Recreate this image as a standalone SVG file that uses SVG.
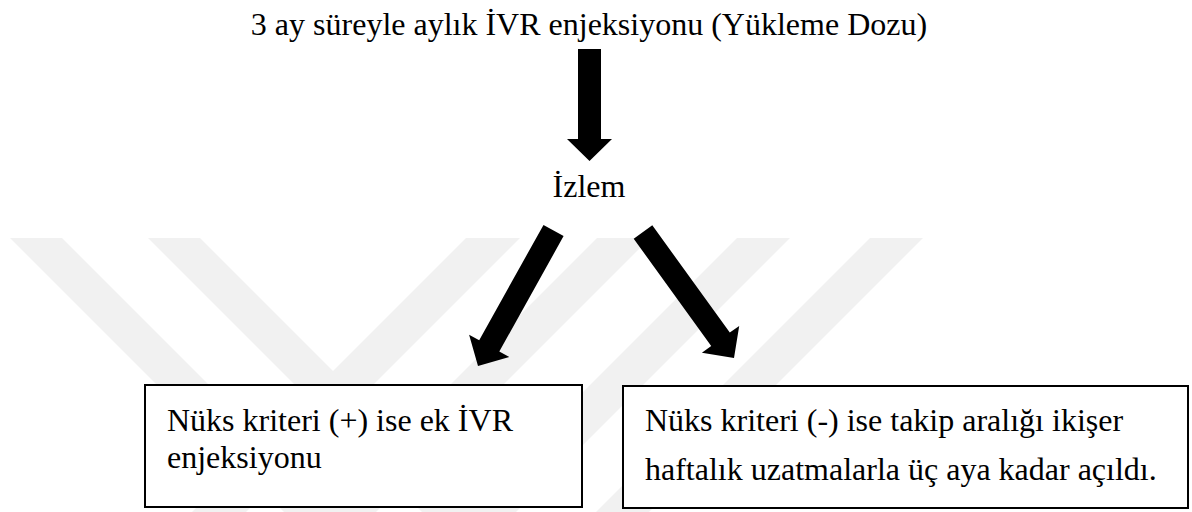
<svg xmlns="http://www.w3.org/2000/svg" width="1192" height="512" viewBox="0 0 1192 512">
<style>
text{font-family:'Liberation Serif','DejaVu Serif',serif;font-size:32px;fill:#000}
.box{fill:#fff;stroke:#000;stroke-width:2}
.arr{fill:#000}
.wm{fill:#f1f1f1}
</style>
<rect width="1192" height="512" fill="#fff"/>
<g id="watermark">
<polygon class="wm" points="10,238 62,238 336,512 284,512"/>
<polygon class="wm" points="148,238 200,238 474,512 422,512"/>
<polygon class="wm" points="466,238 520,238 246,512 192,512"/>
<polygon class="wm" points="597,238 650,238 376,512 323,512"/>
<polygon class="wm" points="737,238 790,238 516,512 463,512"/>
<polygon class="wm" points="870,238 923,238 649,512 596,512"/>
</g>
<g id="connectors">
<polygon class="arr" points="578,49 601,49 601,139 612,139 589.5,161 567,139 578,139"/>
<polygon class="arr" points="563.6,236.1 499.3,351.5 509.3,357.1 478,366 469.1,334.7 479.2,340.3 543.5,224.9"/>
<polygon class="arr" points="652.3,225.3 729.8,332.6 739.2,325.9 734,358 701.9,352.8 711.2,346.1 633.7,238.7"/>
</g>
<g id="title">
<text x="589" y="35" text-anchor="middle" font-family="Liberation Serif, serif">3 ay süreyle aylık İVR enjeksiyonu (Yükleme Dozu)</text>
</g>
<g id="izlem">
<text x="589" y="197" text-anchor="middle" font-family="Liberation Serif, serif">İzlem</text>
</g>
<g id="box-positive">
<rect class="box" x="145" y="385" width="437" height="122"/>
<text x="167" y="431" font-family="Liberation Serif, serif">Nüks kriteri (+) ise ek İVR</text>
<text x="167" y="468" font-family="Liberation Serif, serif">enjeksiyonu</text>
</g>
<g id="box-negative">
<rect class="box" x="623" y="386" width="565" height="122"/>
<text x="645" y="431" font-family="Liberation Serif, serif">Nüks kriteri (-) ise takip aralığı ikişer</text>
<text x="645" y="480" font-family="Liberation Serif, serif">haftalık uzatmalarla üç aya kadar açıldı.</text>
</g>
</svg>
